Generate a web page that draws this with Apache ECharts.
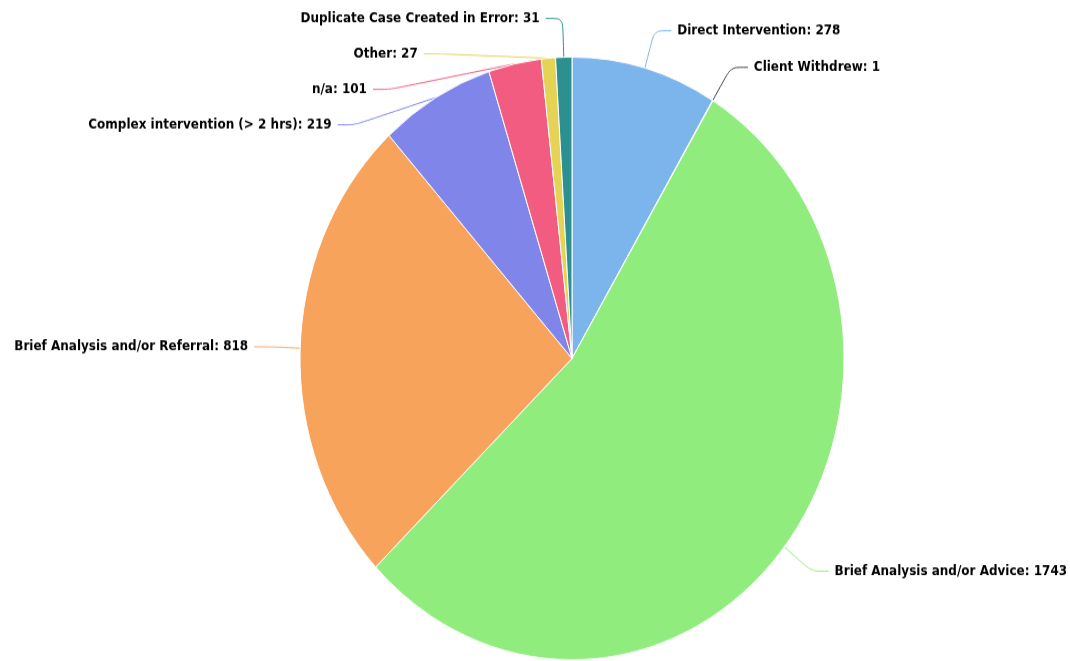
<!DOCTYPE html>
<html>
<head>
<meta charset="utf-8">
<script src="https://cdn.jsdelivr.net/npm/echarts@6/dist/echarts.min.js"></script>
<style>
    html, body {margin: 0; padding: 0; background: #fff; width: 1070px; height: 661px; overflow: hidden;}
    /* the reference pie is slightly taller than wide, so stretch the drawing vertically */
    #chart {width: 1070px; height: 597px; transform: scaleY(1.108); transform-origin: 0 0;}
</style>
</head>
<body>
<div id="chart"></div>
<script>
    var categories = [
        'Direct Intervention',
        'Client Withdrew',
        'Brief Analysis and/or Advice',
        'Brief Analysis and/or Referral',
        'Complex intervention (> 2 hrs)',
        'n/a',
        'Other',
        'Duplicate Case Created in Error'
    ];
    var values = [278, 1, 1743, 818, 219, 101, 27, 31];
    var colors = ['#7cb5ec', '#434348', '#90ed7d', '#f7a35c', '#8085e9', '#f15c80', '#e4d354', '#2b908f'];

    var pieData = categories.map(function (name, i) {
        return {value: values[i], name: name};
    });

    var myChart = echarts.init(document.getElementById('chart'));
    var option  = {
        animation: false,
        color    : colors,
        series   : [
            {
                type      : 'pie',
                center    : [572, 323.5],
                radius    : [0, 272],
                startAngle: 90,
                clockwise : true,
                avoidLabelOverlap: true,
                itemStyle : {
                    borderColor: '#fff',
                    borderWidth: 1
                },
                label     : {
                    show      : true,
                    position  : 'outside',
                    formatter : '{b}: {c}',
                    color     : '#000',
                    fontFamily: '"DejaVu Sans", sans-serif',
                    fontWeight: 'bold',
                    fontSize  : 12,
                    lineHeight: 30,
                    overflow  : 'none',
                    edgeDistance: 0,
                    distanceToLabelLine: 6
                },
                labelLine : {
                    show   : true,
                    length : 35,
                    length2: 17,
                    smooth : 0.25,
                    lineStyle: {width: 1}
                },
                emphasis  : {disabled: true},
                data      : pieData
            }
        ]
    };

    myChart.setOption(option);
</script>
</body>
</html>
